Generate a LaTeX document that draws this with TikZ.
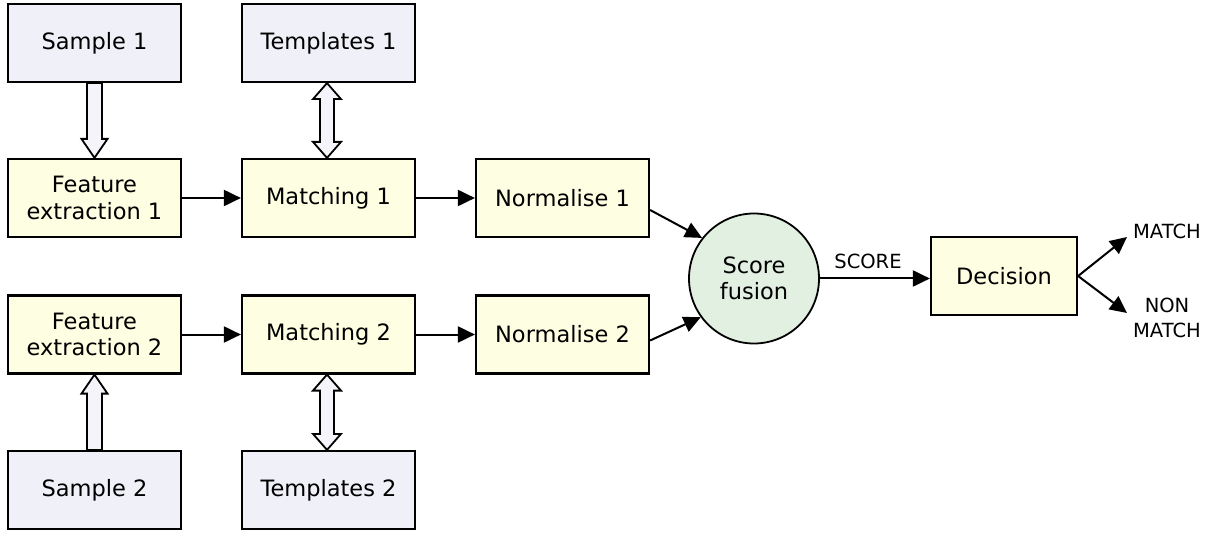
\documentclass[tikz,border=0pt]{standalone}
\usepackage{fontspec}
\setmainfont{DejaVu Sans}
\usetikzlibrary{arrows.meta,calc}
\definecolor{lav}{HTML}{F0F0F8}
\definecolor{ylw}{HTML}{FEFEE2}
\definecolor{grn}{HTML}{E2F0E2}
\definecolor{hol}{HTML}{F4F4FA}
\tikzset{
  box/.style={draw=black,line width=2.2pt,minimum width=173pt,minimum height=78pt,inner sep=0pt,align=center,font=\fontsize{22.5}{26.5}\selectfont},
  inbox/.style={box,fill=lav},
  procbox/.style={box,fill=ylw},
  fusion/.style={draw=black,line width=1.8pt,circle,fill=grn,minimum size=130pt,inner sep=0pt,align=center,font=\fontsize{22.5}{26.5}\selectfont},
  conn/.style={line width=2pt,-{Triangle[length=17pt,width=16pt]}},
  hollow/.style={draw=black,line width=1.8pt,fill=hol,line join=miter},
  small/.style={font=\fontsize{19.5}{25}\selectfont,align=center,inner sep=0pt}
}
\begin{document}
\begin{tikzpicture}[x=1pt,y=-1pt]
\useasboundingbox (0,0) rectangle (1217,534);
% nodes
\node[inbox] (s1) at (94.5,43) {Sample 1};
\node[inbox] (t1) at (328.5,43) {Templates 1};
\node[procbox] (f1) at (94.5,198) {Feature\\extraction 1};
\node[procbox] (m1) at (328.5,198) {Matching 1};
\node[procbox] (n1) at (562.5,198) {Normalise 1};
\node[procbox] (f2) at (94.5,334.5) {Feature\\extraction 2};
\node[procbox] (m2) at (328.5,334.5) {Matching 2};
\node[procbox] (n2) at (562.5,334.5) {Normalise 2};
\node[inbox] (s2) at (94.5,490) {Sample 2};
\node[inbox] (t2) at (328.5,490) {Templates 2};
\node[fusion] (sf) at (754,278.5) {Score\\fusion};
\node[procbox,minimum width=146pt] (dec) at (1004,276) {Decision};
\node[small] (score) at (868,261) {SCORE};
\node[small] (match) at (1167,231) {MATCH};
\node[small] (nonmatch) at (1167,317.5) {NON\\MATCH};
% connectors
\draw[conn] (f1) -- (m1);
\draw[conn] (m1) -- (n1);
\draw[conn] (f2) -- (m2);
\draw[conn] (m2) -- (n2);
\draw[conn] ([yshift=-12pt]n1.east) -- (sf.142);
\draw[conn] ([yshift=-6pt]n2.east) -- (sf.216);
\draw[conn] (sf.east) -- (sf.east -| dec.west);
\coordinate (mt) at (1127,237);
\coordinate (nt) at (1127,313);
\draw[conn] (dec.east) -- (mt);
\draw[conn] (dec.east) -- (nt);
% hollow arrows: sample 1 -> feature 1 (down)
\draw[hollow] let \p1=(s1.south), \p2=(f1.north) in
  ({\x1-7.5pt},\y1) -- ({\x1-7.5pt},{\y2+19pt}) -- ({\x1-13pt},{\y2+19pt}) -- (\x1,\y2)
  -- ({\x1+13pt},{\y2+19pt}) -- ({\x1+7.5pt},{\y2+19pt}) -- ({\x1+7.5pt},\y1) -- cycle;
% sample 2 -> feature 2 (up)
\draw[hollow] let \p1=(s2.north), \p2=(f2.south) in
  ({\x1-7.5pt},\y1) -- ({\x1-7.5pt},{\y2-19pt}) -- ({\x1-13pt},{\y2-19pt}) -- (\x1,\y2)
  -- ({\x1+13pt},{\y2-19pt}) -- ({\x1+7.5pt},{\y2-19pt}) -- ({\x1+7.5pt},\y1) -- cycle;
% templates 1 <-> matching 1
\draw[hollow] let \p1=([xshift=-1.5pt]t1.south), \p2=([xshift=-1.5pt]m1.north) in
  (\x1,\y1) -- ({\x1+14pt},{\y1-16pt}) -- ({\x1+7pt},{\y1-16pt}) -- ({\x1+7pt},{\y2+16pt})
  -- ({\x1+14pt},{\y2+16pt}) -- (\x1,\y2) -- ({\x1-14pt},{\y2+16pt}) -- ({\x1-7pt},{\y2+16pt})
  -- ({\x1-7pt},{\y1-16pt}) -- ({\x1-14pt},{\y1-16pt}) -- cycle;
% matching 2 <-> templates 2
\draw[hollow] let \p1=([xshift=-1.5pt]m2.south), \p2=([xshift=-1.5pt]t2.north) in
  (\x1,\y1) -- ({\x1+14pt},{\y1-16pt}) -- ({\x1+7pt},{\y1-16pt}) -- ({\x1+7pt},{\y2+16pt})
  -- ({\x1+14pt},{\y2+16pt}) -- (\x1,\y2) -- ({\x1-14pt},{\y2+16pt}) -- ({\x1-7pt},{\y2+16pt})
  -- ({\x1-7pt},{\y1-16pt}) -- ({\x1-14pt},{\y1-16pt}) -- cycle;
\end{tikzpicture}
\end{document}
